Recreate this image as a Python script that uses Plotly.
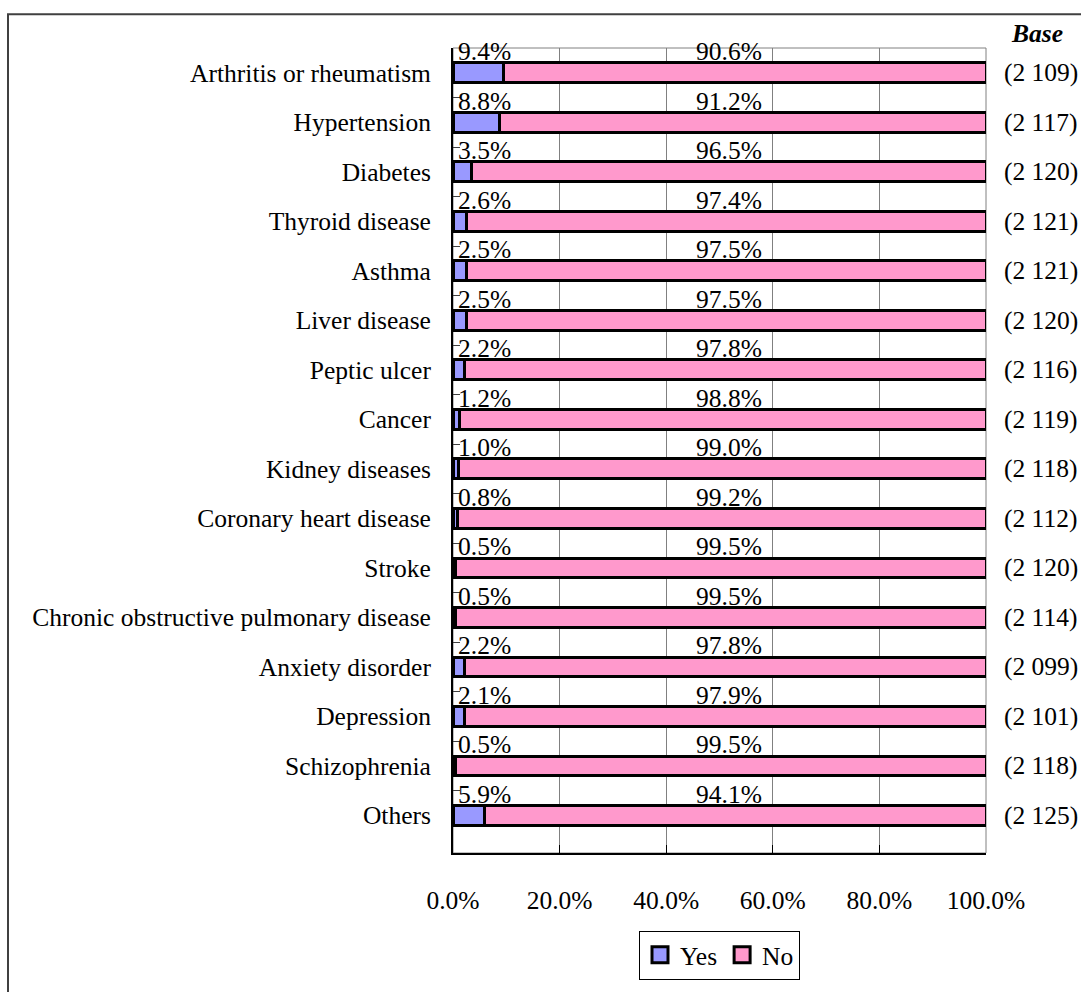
import plotly.graph_objects as go

categories = ["Arthritis or rheumatism", "Hypertension", "Diabetes", "Thyroid disease",
              "Asthma", "Liver disease", "Peptic ulcer", "Cancer", "Kidney diseases",
              "Coronary heart disease", "Stroke", "Chronic obstructive pulmonary disease",
              "Anxiety disorder", "Depression", "Schizophrenia", "Others"]
yes_pct = [9.4, 8.8, 3.5, 2.6, 2.5, 2.5, 2.2, 1.2, 1.0, 0.8, 0.5, 0.5, 2.2, 2.1, 0.5, 5.9]
no_pct = [90.6, 91.2, 96.5, 97.4, 97.5, 97.5, 97.8, 98.8, 99.0, 99.2, 99.5, 99.5, 97.8, 97.9, 99.5, 94.1]
base_n = ["(2 109)", "(2 117)", "(2 120)", "(2 121)", "(2 121)", "(2 120)", "(2 116)", "(2 119)",
          "(2 118)", "(2 112)", "(2 120)", "(2 114)", "(2 099)", "(2 101)", "(2 118)", "(2 125)"]
x_ticks = [0, 20, 40, 60, 80, 100]
x_ticktext = ["0.0%", "20.0%", "40.0%", "60.0%", "80.0%", "100.0%"]
series_names = ["Yes", "No"]
series_colors = ["#9999FF", "#FF99CC"]

FONT = "Liberation Serif, Times New Roman, serif"
FS = 25.5
W, H = 1081, 992
L, R, T, B = 453, 95, 48, 136
PW, PH = W - L - R, H - T - B

def px_x(p):
    return (p - L) / PW

def px_y(p):
    return (H - B - p) / PH

fig = go.Figure()
for name, vals, col in zip(series_names, [yes_pct, no_pct], series_colors):
    fig.add_trace(go.Bar(y=categories, x=vals, name=name, orientation="h",
                         marker=dict(color=col, line=dict(color="black", width=3)),
                         width=0.4, showlegend=False))
# legend entries with larger square symbols
for name, col in zip(series_names, series_colors):
    fig.add_trace(go.Scatter(x=[None], y=[None], mode="markers", name=name,
                             marker=dict(symbol="square", size=16, color=col,
                                         line=dict(color="black", width=3)),
                             showlegend=True))

ann = []
for c, y, n, b in zip(categories, yes_pct, no_pct, base_n):
    ann.append(dict(x=0.5, y=c, xref="x", yref="y", text=f"{y:.1f}%", showarrow=False,
                    xanchor="left", yanchor="middle", yshift=21,
                    font=dict(family=FONT, size=FS, color="black")))
    ann.append(dict(x=51.8, y=c, xref="x", yref="y", text=f"{n:.1f}%", showarrow=False,
                    xanchor="center", yanchor="middle", yshift=21,
                    font=dict(family=FONT, size=FS, color="black")))
    ann.append(dict(x=px_x(1002), y=c, xref="paper", yref="y", text=b, showarrow=False,
                    xanchor="left", yanchor="middle",
                    font=dict(family=FONT, size=FS, color="black")))
ann.append(dict(x=px_x(1036.5), y=px_y(33), xref="paper", yref="paper", text="<b><i>Base</i></b>",
                showarrow=False, xanchor="center", yanchor="middle",
                font=dict(family=FONT, size=FS, color="black")))

shapes = [
    dict(type="rect", xref="paper", yref="paper", x0=0, x1=1, y0=0, y1=1,
         line=dict(color="#808080", width=1), layer="below"),
    dict(type="rect", xref="paper", yref="paper", x0=px_x(8), x1=px_x(1095),
         y0=px_y(1005), y1=px_y(14), line=dict(color="#404040", width=2)),
]

fig.update_layout(
    width=W, height=H,
    margin=dict(l=L, r=R, t=T, b=B, pad=0),
    paper_bgcolor="white", plot_bgcolor="white",
    barmode="stack",
    font=dict(family=FONT, size=FS, color="black"),
    annotations=ann, shapes=shapes,
    legend=dict(orientation="h", x=0.5, xanchor="center", y=px_y(934), yanchor="top",
                bordercolor="black", borderwidth=1, bgcolor="white",
                font=dict(family=FONT, size=FS, color="black"),
                traceorder="normal", itemwidth=30, tracegroupgap=0),
    showlegend=True,
)
fig.update_xaxes(range=[0, 100], tickvals=x_ticks, ticktext=x_ticktext,
                 showgrid=True, gridcolor="#808080", gridwidth=1,
                 showline=True, linecolor="black", linewidth=1.5,
                 ticks="inside", ticklen=8, tickcolor="black",
                 ticklabelstandoff=24, zeroline=False,
                 tickfont=dict(family=FONT, size=FS, color="black"), fixedrange=True)
fig.update_yaxes(autorange="reversed", type="category",
                 showgrid=False, showline=True, linecolor="black", linewidth=2,
                 ticks="inside", ticklen=7, tickcolor="#404040", tickson="boundaries",
                 ticklabelstandoff=15,
                 tickfont=dict(family=FONT, size=FS, color="black"), fixedrange=True)

fig.write_html("out.html", config={"displayModeBar": False},
               post_script="document.body.style.margin='0';")
